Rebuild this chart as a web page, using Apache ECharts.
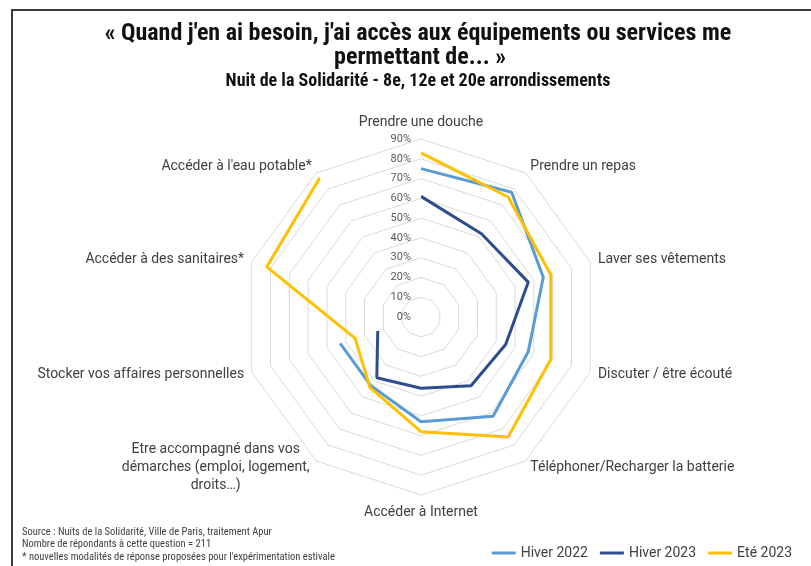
<!DOCTYPE html>
<html>
<head>
<meta charset="utf-8">
<script src="https://cdn.jsdelivr.net/npm/echarts@6/dist/echarts.min.js"></script>
<style>
  html, body { margin: 0; padding: 0; background: #ffffff; }
  #chart { width: 811px; height: 566px; }
</style>
</head>
<body>
<div id="chart"></div>
<script>
// axes, clockwise from the top (as in the original chart)
const categories = [
  "Prendre une douche",
  "Prendre un repas",
  "Laver ses vêtements",
  "Discuter / être écouté",
  "Téléphoner/Recharger la batterie",
  "Accéder à Internet",
  "Etre accompagné dans vos\ndémarches (emploi, logement,\ndroits…)",
  "Stocker vos affaires personnelles",
  "Accéder à des sanitaires*",
  "Accéder à l'eau potable*"
];
// values in %, null = question not asked that season
const hiver2022 = [75, 78, 65, 57, 62, 53, 43, 43, null, null];
const hiver2023 = [61, 52, 57, 45, 43, 36, 38, 23, null, null];
const ete2023 = [83, 75, 69, 69, 75, 58, 44, 35, 82, 87];
const seriesNames = ["Hiver 2022", "Hiver 2023", "Eté 2023"];
const colors = ["#5B9BD5", "#2E4D8F", "#FFC000"];
const maxValue = 90;

const narrow = "'Liberation Sans Narrow', 'Arial Narrow', 'Roboto Condensed', Roboto, sans-serif";
const center = [421, 317];
const radius = 178;

// radar runs counter-clockwise, so flip the order after the first axis
const radarIndicators = [categories[0]].concat(categories.slice(1).reverse()).map(function (name) {
  return { name: name, min: 0, max: maxValue };
});

// polar points [value, axis index]; missing values are skipped
function toPoints(values, closed) {
  const pts = [];
  values.forEach(function (v, i) {
    if (v != null) pts.push([v, i]);
  });
  if (closed) pts.push([values[0], 0]);
  return pts;
}

const chart = echarts.init(document.getElementById("chart"));

chart.setOption({
  animation: false,
  textStyle: { fontFamily: "Roboto, sans-serif" },
  graphic: [
    {
      type: "rect",
      shape: { x: 12, y: 10, width: 830, height: 600 },
      style: { fill: null, stroke: "#3a3a3a", lineWidth: 2 }
    },
    {
      type: "text", x: 418, y: 34,
      style: {
        text: "« Quand j'en ai besoin, j'ai accès aux équipements ou services me",
        font: "bold 24px " + narrow, fill: "#111", align: "center", verticalAlign: "middle"
      }
    },
    {
      type: "text", x: 420, y: 58,
      style: {
        text: "permettant de... »",
        font: "bold 24px " + narrow, fill: "#111", align: "center", verticalAlign: "middle"
      }
    },
    {
      type: "text", x: 418, y: 81,
      style: {
        text: "Nuit de la Solidarité - 8e, 12e et 20e arrondissements",
        font: "bold 18px " + narrow, fill: "#111", align: "center", verticalAlign: "middle"
      }
    },
    {
      type: "text", x: 22, y: 526,
      style: {
        text: "Source : Nuits de la Solidarité, Ville de Paris, traitement Apur\nNombre de répondants à cette question = 211\n* nouvelles modalités de réponse proposées pour l'expérimentation estivale",
        font: "10.5px " + narrow, fill: "#404040", lineHeight: 12.5
      }
    }
  ],
  legend: {
    data: seriesNames,
    right: 14,
    top: 541,
    icon: "rect",
    itemWidth: 24,
    itemHeight: 3,
    itemGap: 12,
    textStyle: { fontSize: 14, color: "#404040" }
  },
  radar: {
    center: center,
    radius: radius,
    startAngle: 90,
    shape: "polygon",
    splitNumber: 9,
    indicator: radarIndicators,
    nameGap: 8,
    axisName: {
      color: "#404040", fontSize: 14, fontFamily: "Roboto, sans-serif", lineHeight: 18,
      // multi-line names are centred line by line, like in the original
      formatter: function (name) {
        if (name.indexOf("\n") < 0) return name;
        return name.split("\n").map(function (l) { return "{c|" + l + "}"; }).join("\n");
      },
      rich: {
        c: { width: 192, align: "center", fontSize: 14, lineHeight: 18, color: "#404040" }
      }
    },
    axisLine: { show: false },
    axisTick: { show: false },
    axisLabel: { show: false },
    splitArea: { show: false },
    splitLine: { lineStyle: { color: "#d9d9d9", width: 1 } }
  },
  polar: { center: center, radius: radius },
  angleAxis: {
    type: "category",
    data: categories,
    startAngle: 90,
    clockwise: true,
    boundaryGap: false,
    show: false
  },
  radiusAxis: {
    type: "value",
    min: 0,
    max: maxValue,
    interval: 10,
    axisLine: { show: false },
    axisTick: { show: false },
    splitLine: { show: false },
    axisLabel: { formatter: "{value}%", fontSize: 11, color: "#595959", margin: 10 }
  },
  series: [
    {
      name: seriesNames[0], type: "line", coordinateSystem: "polar",
      data: toPoints(hiver2022, false),
      showSymbol: false, symbol: "none",
      lineStyle: { width: 3, color: colors[0] }, itemStyle: { color: colors[0] }
    },
    {
      name: seriesNames[1], type: "line", coordinateSystem: "polar",
      data: toPoints(hiver2023, false),
      showSymbol: false, symbol: "none",
      lineStyle: { width: 3, color: colors[1] }, itemStyle: { color: colors[1] }
    },
    {
      name: seriesNames[2], type: "line", coordinateSystem: "polar",
      data: toPoints(ete2023, true),
      showSymbol: false, symbol: "none",
      lineStyle: { width: 3, color: colors[2] }, itemStyle: { color: colors[2] }
    }
  ]
});
</script>
</body>
</html>
